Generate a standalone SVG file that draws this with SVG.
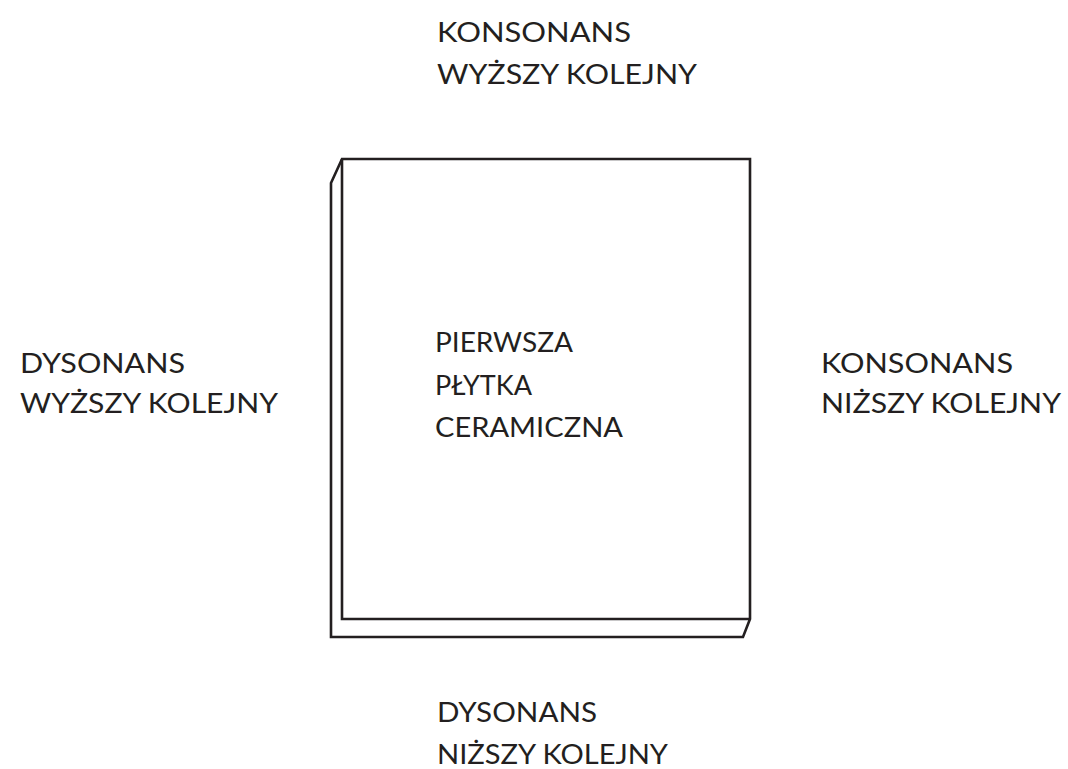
<svg xmlns="http://www.w3.org/2000/svg" width="1068" height="769" viewBox="0 0 1068 769">
<style>
.t{font-family:Lato,"Liberation Sans",sans-serif;font-size:27px;font-weight:400;fill:#231f20}
.ln{fill:none;stroke:#231f20;stroke-width:2.6;stroke-linejoin:miter}
</style>
<rect width="1068" height="769" fill="#fff"/>
<g id="tile">
<path class="ln" d="M342,159 L750,159 L750,619 L743,637 L331,637 L331,183 Z"/>
<path class="ln" d="M342,159 L342,619 L750,619"/>
<text class="t" x="435" y="352" textLength="138" lengthAdjust="spacingAndGlyphs">PIERWSZA</text>
<text class="t" x="435" y="395" textLength="97" lengthAdjust="spacingAndGlyphs">PŁYTKA</text>
<text class="t" x="435" y="437" textLength="188" lengthAdjust="spacingAndGlyphs">CERAMICZNA</text>
</g>
<g id="top">
<text class="t" x="437" y="42" textLength="194" lengthAdjust="spacingAndGlyphs">KONSONANS</text>
<text class="t" x="437" y="84" textLength="260" lengthAdjust="spacingAndGlyphs">WYŻSZY KOLEJNY</text>
</g>
<g id="left">
<text class="t" x="20" y="373" textLength="165" lengthAdjust="spacingAndGlyphs">DYSONANS</text>
<text class="t" x="20" y="413" textLength="258" lengthAdjust="spacingAndGlyphs">WYŻSZY KOLEJNY</text>
</g>
<g id="right">
<text class="t" x="821" y="373" textLength="192" lengthAdjust="spacingAndGlyphs">KONSONANS</text>
<text class="t" x="821" y="413" textLength="240" lengthAdjust="spacingAndGlyphs">NIŻSZY KOLEJNY</text>
</g>
<g id="bottom">
<text class="t" x="437" y="722" textLength="160" lengthAdjust="spacingAndGlyphs">DYSONANS</text>
<text class="t" x="437" y="764" textLength="231" lengthAdjust="spacingAndGlyphs">NIŻSZY KOLEJNY</text>
</g>
<g id="connectors"></g>
</svg>
